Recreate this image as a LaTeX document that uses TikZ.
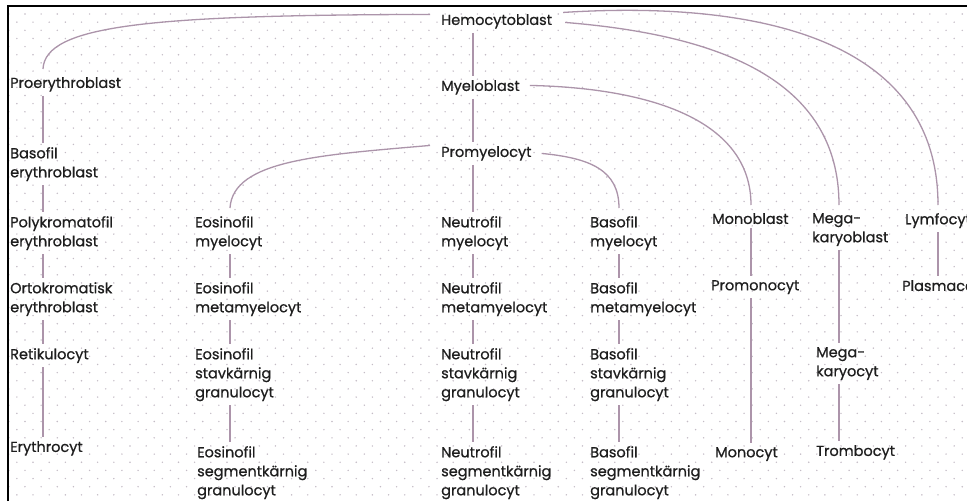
\documentclass[tikz,border=0pt]{standalone}
\usepackage{fontspec}
\setmainfont{Poppins}[BoldFont={Poppins}, BoldFeatures={FakeBold=0.7}]
\usetikzlibrary{calc}
\definecolor{linkmauve}{RGB}{172,148,170}
\definecolor{dotgray}{RGB}{196,188,198}
\definecolor{textgray}{RGB}{30,30,30}
\def\nonecell{none}

\begin{document}
\begin{tikzpicture}[
  x=1pt, y=-1pt,
  cell/.style={anchor=north west, inner sep=0pt, align=left, font=\fontsize{14.5}{19}\selectfont\bfseries, text=textgray},
  link/.style={draw=linkmauve, line width=1.3pt, shorten <=4pt, shorten >=4pt},
  branch/.style={draw=linkmauve, line width=1.3pt},
]
\clip (0,0) rectangle (967,501);
\fill[white] (0,0) rectangle (967,501);

% dotted paper
\foreach \b in {0,...,60}{
  \pgfmathtruncatemacro\off{mod(\b,2)}
  \foreach \a in {0,...,59}{
    \fill[dotgray] ({8.8+8.08*(2*\a+\off)},{14+8.15*\b}) circle (0.8);
  }
}
% frame
\draw[line width=2pt] (8.3,501) -- (8.3,6) -- (967,6);

% line columns
\coordinate (ex) at (43,0);
\coordinate (eox) at (230,0);
\coordinate (nx) at (473,0);
\coordinate (bx) at (619,0);
\coordinate (mx) at (751,0);
\coordinate (mkx) at (839,0);
\coordinate (lx) at (938,0);

% Stem
\node[cell] (hemo) at (441,14) {Hemocytoblast};
\node[cell] (myelo) at (441,80) {Myeloblast};
\node[cell] (promy) at (441,146) {Promyelocyt};

% Erythrocyte line
\node[cell] (proery) at (10,77) {Proerythroblast};
\node[cell] (basery) at (10,147) {Basofil\\erythroblast};
\node[cell] (polyery) at (10,216) {Polykromatofil\\erythroblast};
\node[cell] (ortoery) at (10,282) {Ortokromatisk\\erythroblast};
\node[cell] (retik) at (10,348) {Retikulocyt};
\node[cell] (erytro) at (10,441) {Erythrocyt};

% Eosinofil line
\node[cell] (eosmye) at (195,216) {Eosinofil\\myelocyt};
\node[cell] (eosmeta) at (195,282) {Eosinofil\\metamyelocyt};
\node[cell] (eosstav) at (195,348) {Eosinofil\\stavkärnig\\granulocyt};
\node[cell] (eosseg) at (197,446) {Eosinofil\\segmentkärnig\\granulocyt};

% Neutrofil line
\node[cell] (neumye) at (441,216) {Neutrofil\\myelocyt};
\node[cell] (neumeta) at (441,282) {Neutrofil\\metamyelocyt};
\node[cell] (neustav) at (441,348) {Neutrofil\\stavkärnig\\granulocyt};
\node[cell] (neuseg) at (441,446) {Neutrofil\\segmentkärnig\\granulocyt};

% Basofil line
\node[cell] (basmye) at (590,216) {Basofil\\myelocyt};
\node[cell] (basmeta) at (590,282) {Basofil\\metamyelocyt};
\node[cell] (basstav) at (590,348) {Basofil\\stavkärnig\\granulocyt};
\node[cell] (basseg) at (590,446) {Basofil\\segmentkärnig\\granulocyt};

% Monocyte line
\node[cell] (monobl) at (712,213) {Monoblast};
\node[cell] (promono) at (711,280) {Promonocyt};
\node[cell] (mono) at (715,447) {Monocyt};

% Platelet line
\node[cell] (megabl) at (812,213) {Mega-\\karyoblast};
\node[cell] (megacyt) at (816,347) {Mega-\\karyocyt};
\node[cell] (tromb) at (816,445) {Trombocyt};

% Lymphocyte line
\node[cell] (lymf) at (905,213) {Lymfocyt};
\node[cell] (plasma) at (902,280) {Plasmacell};

% Branches
\draw[branch] ([xshift=-11pt,yshift=7pt]hemo.west) .. controls (150,15) and (45,25) .. ([yshift=8pt]proery.north -| ex);
\draw[branch] ([xshift=11pt,yshift=9pt]hemo.east) .. controls (760,0) and (938,40) .. ([yshift=8pt]lymf.north -| lx);
\draw[branch] ([xshift=13pt,yshift=-1pt]hemo.east) .. controls (720,35) and (839,80) .. ([yshift=8pt]megabl.north -| mkx);
\draw[branch] ([xshift=10pt,yshift=2pt]myelo.east) .. controls (650,88) and (751,120) .. ([yshift=8pt]monobl.north -| mx);
\draw[branch] ([xshift=-11pt,yshift=8pt]promy.west) .. controls (320,155) and (233,160) .. ([yshift=8pt]eosmye.north -| eox);
\draw[branch] ([xshift=10pt]promy.east) .. controls (590,158) and (619,170) .. ([yshift=8pt]basmye.north -| bx);

% Straight descent
\foreach \col/\cells in {nx/{hemo,myelo,promy,neumye,neumeta,neustav,neuseg},
                         ex/{proery,basery,polyery,ortoery,retik,erytro},
                         eox/{eosmye,eosmeta,eosstav,eosseg},
                         bx/{basmye,basmeta,basstav,basseg},
                         mx/{monobl,promono,mono},
                         mkx/{megabl,megacyt,tromb},
                         lx/{lymf,plasma}}{
  \foreach \up [remember=\up as \prev (initially none)] in \cells {
    \ifx\prev\nonecell\else
      \draw[link] (\prev.south -| \col) -- (\up.north -| \col);
    \fi
  }
}
\end{tikzpicture}
\end{document}
